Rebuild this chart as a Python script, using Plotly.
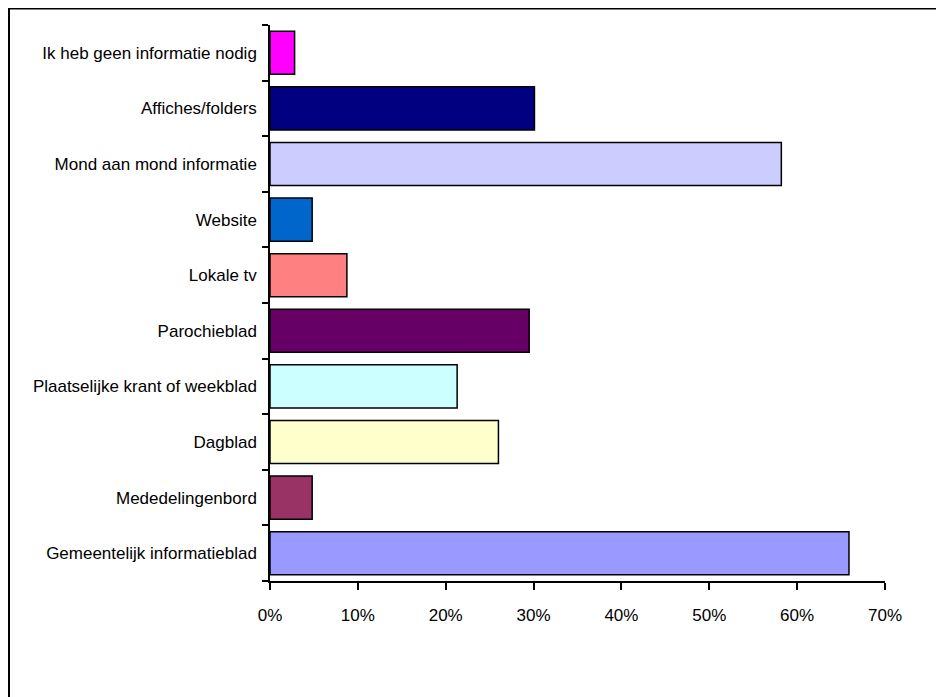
import plotly.graph_objects as go

categories = [
    "Gemeentelijk informatieblad",
    "Mededelingenbord",
    "Dagblad",
    "Plaatselijke krant of weekblad",
    "Parochieblad",
    "Lokale tv",
    "Website",
    "Mond aan mond informatie",
    "Affiches/folders",
    "Ik heb geen informatie nodig",
]
values = [0.659, 0.048, 0.260, 0.213, 0.295, 0.0875, 0.048, 0.582, 0.301, 0.028]
colors = ["#9999FF", "#993366", "#FFFFCC", "#CCFFFF", "#660066",
          "#FF8080", "#0066CC", "#CCCCFF", "#000080", "#FF00FF"]
x_ticks = [0, 0.1, 0.2, 0.3, 0.4, 0.5, 0.6, 0.7]
x_tick_labels = ["0%", "10%", "20%", "30%", "40%", "50%", "60%", "70%"]

# page has an 8px body margin, so the figure is sized to fit the window
W, H = 936, 689
ml, mr, mt, mb = 262, 59, 17, 116
pw, ph = W - ml - mr, H - mt - mb

fig = go.Figure(go.Bar(
    x=values, y=categories, orientation="h",
    marker=dict(color=colors, line=dict(color="#000000", width=1.5)),
    width=0.775, hoverinfo="skip",
))

font = dict(family="Liberation Sans, Arial, sans-serif", size=17, color="#000000")
fig.update_layout(
    width=W, height=H,
    margin=dict(l=ml, r=mr, t=mt, b=mb),
    paper_bgcolor="white", plot_bgcolor="white",
    font=font, showlegend=False,
    xaxis=dict(range=[0, 0.7], tickvals=x_ticks, ticktext=x_tick_labels,
               showgrid=False, zeroline=False, showline=True,
               linecolor="#000000", linewidth=1.5,
               ticks="outside", ticklen=7, tickwidth=1.5, tickcolor="#000000",
               ticklabelstandoff=11, fixedrange=True),
    yaxis=dict(categoryorder="array", categoryarray=categories,
               range=[-0.5, 9.5], showgrid=False, zeroline=False, showline=True,
               linecolor="#000000", linewidth=1.5,
               ticks="outside", ticklen=6, tickwidth=1.5, tickcolor="#000000",
               tickson="boundaries", ticklabelstandoff=8, fixedrange=True),
    shapes=[dict(type="rect", xref="paper", yref="paper",
                 x0=-(ml - 1) / pw, x1=1 + (mr + 20) / pw,
                 y0=-(mb + 20) / ph, y1=1 + (mt - 0.5) / ph,
                 line=dict(color="#000000", width=2), fillcolor="rgba(0,0,0,0)",
                 layer="below")],
)

fig.write_html("out.html")
